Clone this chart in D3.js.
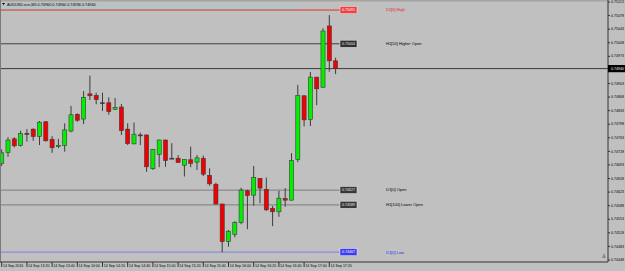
<!DOCTYPE html>
<html>
<head>
<meta charset="utf-8">
<script src="https://cdn.jsdelivr.net/npm/d3@7"></script>
<style>
  body { margin: 0; background: #c0c0c0; }
  svg { display: block; font-family: "Liberation Sans", Arial, sans-serif; }
</style>
</head>
<body>
<div id="chart"></div>
<script>
// AUDUSD.ecn M5 bars, 14 Sep 2016
const times = [
  "13:00","13:05","13:10","13:15","13:20","13:25","13:30","13:35","13:40","13:45","13:50","13:55",
  "14:00","14:05","14:10","14:15","14:20","14:25","14:30","14:35","14:40","14:45","14:50","14:55",
  "15:00","15:05","15:10","15:15","15:20","15:25","15:30","15:35","15:40","15:45","15:50","15:55",
  "16:00","16:05","16:10","16:15","16:20","16:25","16:30","16:35","16:40","16:45","16:50","16:55",
  "17:00","17:05","17:10","17:15","17:20","17:25"
];
const opens = [
  0.74696,0.74724,0.74759,0.74742,0.74773,0.74784,0.74765,0.74803,0.74758,0.74739,0.74742,0.74779,
  0.74822,0.74810,0.74875,0.74871,0.74852,0.74852,0.74835,0.74841,0.74784,0.74746,0.74769,0.74769,
  0.74682,0.74719,0.74756,0.74709,0.74709,0.74691,0.74705,0.74699,0.74709,0.74665,0.74642,0.74591,
  0.74494,0.74513,0.74543,0.74625,0.74614,0.74657,0.74629,0.74580,0.74571,0.74605,0.74601,0.74706,
  0.74870,0.74809,0.74918,0.74892,0.75050,0.74960
];
const highs = [
  0.74732,0.74763,0.74763,0.74780,0.74784,0.74786,0.74805,0.74805,0.74766,0.74759,0.74799,0.74844,
  0.74825,0.74882,0.74922,0.74878,0.74878,0.74866,0.74864,0.74849,0.74799,0.74801,0.74775,0.74770,
  0.74733,0.74757,0.74757,0.74748,0.74717,0.74707,0.74739,0.74717,0.74716,0.74683,0.74646,0.74592,
  0.74524,0.74547,0.74633,0.74628,0.74689,0.74658,0.74659,0.74586,0.74625,0.74632,0.74722,0.74898,
  0.74871,0.74931,0.74919,0.75044,0.75078,0.74968
];
const lows = [
  0.74689,0.74713,0.74737,0.74739,0.74752,0.74754,0.74743,0.74752,0.74723,0.74735,0.74726,0.74776,
  0.74803,0.74797,0.74859,0.74848,0.74831,0.74821,0.74834,0.74769,0.74743,0.74745,0.74743,0.74674,
  0.74679,0.74686,0.74687,0.74708,0.74697,0.74662,0.74686,0.74679,0.74663,0.74638,0.74590,0.74467,
  0.74481,0.74505,0.74539,0.74526,0.74587,0.74593,0.74573,0.74534,0.74558,0.74584,0.74600,0.74699,
  0.74791,0.74792,0.74846,0.74891,0.74932,0.74926
];
const closes = [
  0.74723,0.74756,0.74741,0.74773,0.74773,0.74765,0.74802,0.74754,0.74736,0.74742,0.74782,0.74821,
  0.74807,0.74866,0.74870,0.74860,0.74852,0.74829,0.74840,0.74780,0.74747,0.74771,0.74769,0.74687,
  0.74732,0.74756,0.74703,0.74709,0.74698,0.74706,0.74696,0.74710,0.74668,0.74643,0.74591,0.74494,
  0.74521,0.74543,0.74627,0.74613,0.74659,0.74632,0.74576,0.74571,0.74606,0.74601,0.74703,0.74871,
  0.74808,0.74918,0.74888,0.75037,0.74960,0.74940
];

const priceTicks = [
  0.75113,0.75078,0.75043,0.75008,0.74973,0.74938,0.74903,0.74868,0.74833,0.74798,
  0.74763,0.74728,0.74693,0.74658,0.74623,0.74588,0.74553,0.74518,0.74483,0.74448
];
const tickBars = ["13:00","13:20","13:40","14:00","14:20","14:40","15:00","15:20","15:40","16:00","16:20","16:40","17:00","17:20"];
const tickText = ["14 Sep 2016","14 Sep 13:20","14 Sep 13:40","14 Sep 14:00","14 Sep 14:20","14 Sep 14:40","14 Sep 15:00",
  "14 Sep 15:20","14 Sep 15:40","14 Sep 16:00","14 Sep 16:20","14 Sep 16:40","14 Sep 17:00","14 Sep 17:20"];

const levelNames = ["D1[0] High","H1[50] Higher Open","D1[0] Open","H1[100] Lower Open","D1[0] Low"];
const levelPrices = [0.75091, 0.75004, 0.74627, 0.74589, 0.74467];
const topLevel = 0.75097;
const lastPrice = 0.74940;
const title = "AUDUSD.ecn,M5  0.74960 0.74960 0.74936 0.74940";

const levelStyle = {
  "D1[0] High":         { line: "#e03030", box: "#f04040", boxText: "#ffffff", text: "#e02020", w: 1 },
  "H1[50] Higher Open": { line: "#404040", box: "#303030", boxText: "#e8e8e8", text: "#000000", w: 1 },
  "D1[0] Open":         { line: "#8a8a8a", box: "#383838", boxText: "#e8e8e8", text: "#000000", w: 1.3 },
  "H1[100] Lower Open": { line: "#8a8a8a", box: "#383838", boxText: "#e8e8e8", text: "#000000", w: 1.3 },
  "D1[0] Low":          { line: "#8c8ce0", box: "#3c3cf0", boxText: "#ffffff", text: "#3030f0", w: 1.3 }
};

const width = 625, height = 271;
const plotRight = 608, plotBottom = 262;

let svg = d3.select("#chart")
    .append("svg")
    .attr("width", width)
    .attr("height", height);

svg.append("rect")
    .attr("width", width)
    .attr("height", height)
    .attr("fill", "#c0c0c0");

svg.append("rect")
    .attr("width", plotRight)
    .attr("height", 1.5)
    .attr("fill", "#a4a4a4");

let x = d3.scaleBand()
    .domain(times)
    .range([-1.45, 338.75])
    .paddingInner(0.35)
    .paddingOuter(0.175);

let y = d3.scaleLinear()
    .domain([0.74448, 0.75113])
    .range([259.5, 1.5]);

let cx = t => x(t) + x.bandwidth() / 2;

// level lines
svg.append("line")
    .attr("x1", 0).attr("x2", 300)
    .attr("y1", y(topLevel)).attr("y2", y(topLevel))
    .attr("stroke", "#88d8dc").attr("stroke-width", 1);

let levels = levelNames.map((name, i) => ({ name: name, price: levelPrices[i] }));

let lv = svg.selectAll("g.level")
    .data(levels)
    .enter()
    .append("g")
    .attr("class", "level");

lv.append("line")
    .attr("x1", 0).attr("x2", 340)
    .attr("y1", d => y(d.price)).attr("y2", d => y(d.price))
    .attr("stroke", d => levelStyle[d.name].line)
    .attr("stroke-width", d => levelStyle[d.name].w);

lv.append("rect")
    .attr("x", 340).attr("y", d => y(d.price) - 3.6)
    .attr("width", 17).attr("height", 7.2)
    .attr("fill", d => levelStyle[d.name].box)
    .attr("stroke", "#f0f0f0").attr("stroke-width", 0.5);

lv.append("text")
    .attr("x", 348.5).attr("y", d => y(d.price))
    .attr("dy", "0.35em")
    .attr("text-anchor", "middle")
    .style("font-size", "3.6px")
    .attr("fill", d => levelStyle[d.name].boxText)
    .text(d => d3.format(".5f")(d.price));

lv.append("text")
    .attr("x", 386).attr("y", d => y(d.price))
    .attr("dy", "0.35em")
    .style("font-size", "4px")
    .attr("fill", d => levelStyle[d.name].text)
    .text(d => d.name);

// current price line
svg.append("line")
    .attr("x1", 0).attr("x2", plotRight)
    .attr("y1", y(lastPrice)).attr("y2", y(lastPrice))
    .attr("stroke", "#3a3a3a").attr("stroke-width", 1);

// candles
let bars = times.map((t, i) => ({ t: t, o: opens[i], h: highs[i], l: lows[i], c: closes[i] }));

let candle = svg.selectAll("g.bar")
    .data(bars)
    .enter()
    .append("g")
    .attr("class", "bar");

candle.append("line")
    .attr("x1", d => cx(d.t)).attr("x2", d => cx(d.t))
    .attr("y1", d => y(d.h)).attr("y2", d => y(d.l))
    .attr("stroke", "#3c3c3c").attr("stroke-width", 1);

candle.append("rect")
    .attr("x", d => x(d.t))
    .attr("width", x.bandwidth())
    .attr("y", d => y(Math.max(d.o, d.c)))
    .attr("height", d => Math.max(0.9, Math.abs(y(d.o) - y(d.c))))
    .attr("fill", d => d.c > d.o ? "#00f000" : d.c < d.o ? "#f00000" : "#333333")
    .attr("stroke", "#3a3a3a")
    .attr("stroke-width", 0.6);

// frame
svg.append("line")
    .attr("x1", 0.5).attr("x2", 0.5).attr("y1", 0).attr("y2", plotBottom)
    .attr("stroke", "#7a7a7a");
svg.append("line")
    .attr("x1", 0).attr("x2", plotRight).attr("y1", plotBottom).attr("y2", plotBottom)
    .attr("stroke", "#333333");
svg.append("line")
    .attr("x1", plotRight).attr("x2", plotRight).attr("y1", 0).attr("y2", plotBottom)
    .attr("stroke", "#333333");

// price axis
let yAxis = svg.append("g")
    .attr("transform", `translate(${plotRight}, 0)`)
    .call(d3.axisRight(y).tickValues(priceTicks).tickSize(2).tickPadding(1).tickFormat(d3.format(".5f")));
yAxis.select(".domain").remove();
yAxis.selectAll("line").attr("stroke", "#333");
yAxis.selectAll("text")
    .style("font-size", "3.6px")
    .attr("fill", "#000")
    .style("font-family", "'Liberation Sans', Arial, sans-serif");

// last price label
svg.append("rect")
    .attr("x", plotRight).attr("y", y(lastPrice) - 3.6)
    .attr("width", 17).attr("height", 7.2)
    .attr("fill", "#000");
svg.append("text")
    .attr("x", plotRight + 3).attr("y", y(lastPrice))
    .attr("dy", "0.35em")
    .style("font-size", "3.6px")
    .attr("fill", "#fff")
    .text(d3.format(".5f")(lastPrice));

// time axis
let xAxis = svg.append("g")
    .attr("transform", `translate(0, ${plotBottom})`)
    .call(d3.axisBottom(x).tickValues(tickBars).tickSize(5).tickFormat((d, i) => tickText[i]));
xAxis.select(".domain").remove();
xAxis.selectAll(".tick").attr("transform", d => `translate(${cx(d)},0)`);
xAxis.selectAll("line").attr("stroke", "#333");
xAxis.selectAll("text")
    .attr("x", 1.2).attr("y", 2.7).attr("dy", "0.71em")
    .style("text-anchor", "start")
    .style("font-size", "3.6px")
    .attr("fill", "#000")
    .style("font-family", "'Liberation Sans', Arial, sans-serif");

// title
svg.append("path")
    .attr("d", "M2,3 L5,3 L3.5,5 Z")
    .attr("fill", "#000");
svg.append("text")
    .attr("x", 7).attr("y", 5.6)
    .style("font-size", "3.8px")
    .attr("fill", "#000")
    .text(title);

// chart shift marker
svg.append("path")
    .attr("d", "M602,258 L606,258 L604,253 Z")
    .attr("fill", "#888");
</script>
</body>
</html>
